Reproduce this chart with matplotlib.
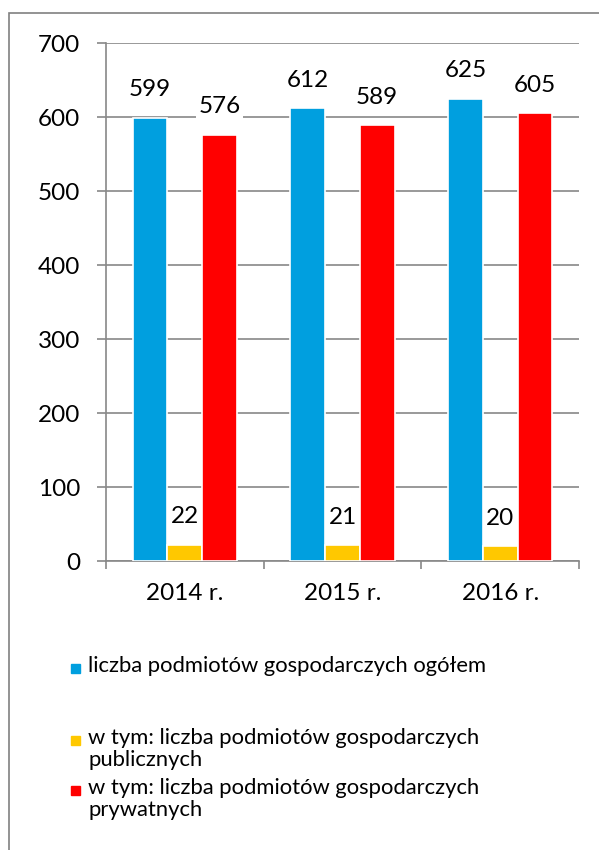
import matplotlib.pyplot as plt
import numpy as np
from matplotlib.patches import Rectangle

plt.rcParams['font.family'] = ['Lato', 'DejaVu Sans']

years = ["2014 r.", "2015 r.", "2016 r."]
ogolem = [599, 612, 625]
publiczne = [22, 21, 20]
prywatne = [576, 589, 605]

series_names = [
    "liczba podmiotów gospodarczych ogółem",
    "w tym: liczba podmiotów gospodarczych\npublicznych",
    "w tym: liczba podmiotów gospodarczych\nprywatnych",
]
colors = ["#009FDF", "#FFC800", "#FF0000"]

W, H = 599, 850
fig = plt.figure(figsize=(W / 100, H / 100), dpi=100)
ax = fig.add_axes([106 / W, 1 - 561 / H, (579 - 106) / W, (561 - 43) / H])

grid_c = "#888888"
fs = 17.5
x = np.arange(len(years))
bw = 0.22
for i, (vals, c) in enumerate(zip([ogolem, publiczne, prywatne], colors)):
    bars = ax.bar(x + (i - 1) * bw, vals, bw, color=c, edgecolor="white",
                  linewidth=1.2, zorder=3)
    for b, v in zip(bars, vals):
        ax.annotate(str(v), (b.get_x() + b.get_width() / 2, v),
                    xytext=(0, 20), textcoords="offset points",
                    ha="center", va="center", fontsize=fs,
                    bbox=dict(facecolor="white", edgecolor="none", pad=1.5),
                    zorder=4)

ax.set_xlim(-0.5, 2.5)
ax.set_ylim(0, 700)
ax.set_yticks(range(0, 701, 100))
ax.yaxis.grid(True, color=grid_c, linewidth=1.2, zorder=0)
ax.tick_params(axis="y", length=6.5, color=grid_c, width=1.2, pad=12,
               labelsize=fs)
ax.set_xticks(x)
ax.set_xticklabels(years)
ax.tick_params(axis="x", which="major", length=0, pad=16, labelsize=fs)
ax.set_xticks([-0.5, 0.5, 1.5, 2.5], minor=True)
ax.tick_params(axis="x", which="minor", length=6, color=grid_c, width=1.2)
for s in ["top", "right"]:
    ax.spines[s].set_visible(False)
for s in ["left", "bottom"]:
    ax.spines[s].set_color(grid_c)
    ax.spines[s].set_linewidth(1.2)

# legend drawn by hand (uneven spacing like the source)
leg_y = [668, 740, 790]
for name, c, yy in zip(series_names, colors, leg_y):
    fig.patches.append(Rectangle((71 / W, 1 - (yy + 5) / H), 9 / W, 9 / H,
                                 transform=fig.transFigure, color=c))
    fig.text(88 / W, 1 - (yy - 12) / H, name, fontsize=15.8, va="top",
             linespacing=1.15)

# outer border
fig.patches.append(Rectangle((9 / W, -0.01), 1.0, 1 - 13 / H + 0.01,
                             transform=fig.transFigure, fill=False,
                             edgecolor="#808080", linewidth=1.2))

fig.savefig("out.png", dpi=100)
